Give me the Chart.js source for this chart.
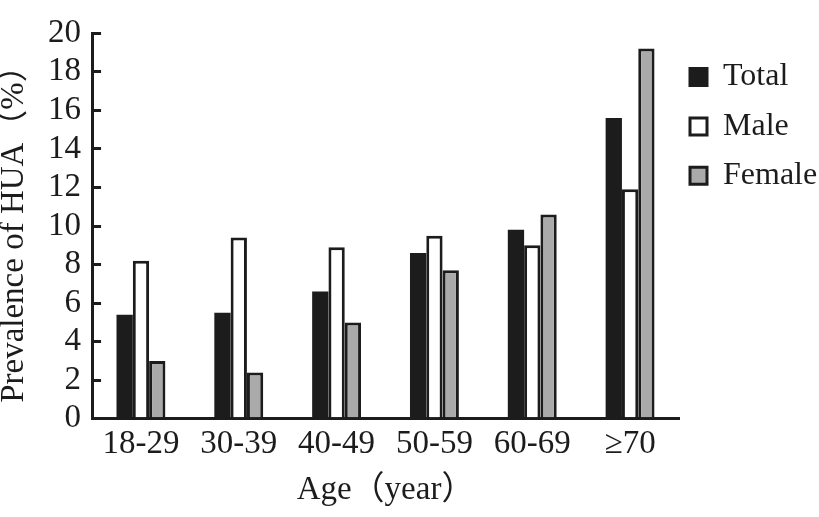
<!DOCTYPE html>
<html>
<head>
<meta charset="utf-8">
<script src="https://cdn.jsdelivr.net/npm/chart.js@4/dist/chart.umd.min.js"></script>
<style>
html,body{margin:0;padding:0;background:#fff;}
#wrap{width:819px;height:517px;}
</style>
</head>
<body>
<div id="wrap"><canvas id="c" width="819" height="517"></canvas></div>
<script>
const categories = ['18-29', '30-39', '40-49', '50-59', '60-69', '≥70'];
const totalValues = [5.4, 5.5, 6.6, 8.6, 9.8, 15.6];
const maleValues = [8.2, 9.4, 8.9, 9.5, 9.0, 11.9];
const femaleValues = [3.0, 2.4, 5.0, 7.7, 10.6, 19.2];
const yTicks = [0, 2, 4, 6, 8, 10, 12, 14, 16, 18, 20];
const seriesNames = ['Total', 'Male', 'Female'];
const xTitle = 'Age（year）';
const yTitle = 'Prevalence of HUA（%）';

const FONT = "'Liberation Serif', 'Noto Sans CJK SC', serif";
const INK = '#1c1c1c';

const barCommon = {categoryPercentage: 0.5, barPercentage: 1.0, borderSkipped: 'bottom'};

new Chart(document.getElementById('c'), {
  type: 'bar',
  data: {
    labels: categories,
    datasets: [
      Object.assign({label: seriesNames[0], data: totalValues, backgroundColor: INK, borderColor: INK, borderWidth: 0}, barCommon),
      Object.assign({label: seriesNames[1], data: maleValues, backgroundColor: '#ffffff', borderColor: INK, borderWidth: 3}, barCommon),
      Object.assign({label: seriesNames[2], data: femaleValues, backgroundColor: '#aaaaaa', borderColor: INK, borderWidth: 3}, barCommon)
    ]
  },
  options: {
    responsive: false,
    animation: false,
    devicePixelRatio: 1,
    layout: {padding: {top: 7, right: 0, bottom: 7, left: 0}},
    plugins: {
      tooltip: {enabled: false},
      legend: {
        position: 'right',
        align: 'start',
        maxWidth: 140,
        title: {display: true, text: '', padding: {top: 31, bottom: 0}, font: {size: 10}},
        labels: {
          font: {family: FONT, size: 32, lineHeight: 1.2},
          color: INK,
          boxWidth: 17,
          boxHeight: 17,
          padding: 11,
          useBorderRadius: false,
          generateLabels: (chart) => chart.data.datasets.map((ds, i) => ({
            text: [ds.label],
            fillStyle: ds.backgroundColor,
            strokeStyle: INK,
            lineWidth: 3,
            hidden: false,
            datasetIndex: i,
            fontColor: INK
          }))
        }
      }
    },
    scales: {
      x: {
        offset: true,
        grid: {display: false, drawTicks: false},
        border: {display: true, color: INK, width: 3},
        ticks: {font: {family: FONT, size: 33}, color: INK, padding: 6},
        title: {display: true, text: xTitle, font: {family: FONT, size: 33}, color: INK, padding: {top: 0, bottom: 0}}
      },
      y: {
        min: 0, max: 20,
        afterBuildTicks: (axis) => { axis.ticks = yTicks.map(v => ({value: v})); },
        grid: {display: true, drawOnChartArea: false, drawTicks: true, tickLength: -9, color: INK, lineWidth: 3},
        border: {display: true, color: INK, width: 3},
        ticks: {font: {family: FONT, size: 33, lineHeight: 0.8}, color: INK, padding: 20, autoSkip: false},
        title: {display: true, text: yTitle, font: {family: FONT, size: 33, lineHeight: 0.85}, color: INK, padding: {top: 0, bottom: 0}}
      }
    }
  }
});
</script>
</body>
</html>
